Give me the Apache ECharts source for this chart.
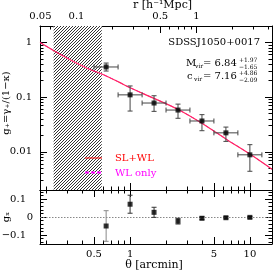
<!DOCTYPE html>
<html><head><meta charset="utf-8">
<script src="https://cdn.jsdelivr.net/npm/echarts@6/dist/echarts.min.js"></script>
<style>html,body{margin:0;padding:0;background:#fff}#c{width:274px;height:272px}</style>
</head><body><div id="c"></div>
<script>
// ---- data ----
const theta    = [0.631, 1.0, 1.585, 2.512, 3.981, 6.31, 10.0];
const thetaLo  = [0.50, 0.794, 1.26, 1.995, 3.16, 5.01, 7.94];
const thetaHi  = [0.794, 1.26, 1.995, 3.16, 5.01, 7.94, 12.6];
const gPlus    = [0.356, 0.110, 0.078, 0.058, 0.0366, 0.0222, 0.0088];
const gPlusLo  = [0.30, 0.0556, 0.0549, 0.0410, 0.0243, 0.0155, 0.0044];
const gPlusHi  = [0.42, 0.160, 0.106, 0.0745, 0.0478, 0.0283, 0.0135];
const gCross   = [-0.05, 0.071, 0.026, -0.023, -0.007, -0.004, -0.002];
const gCrossErr= [0.085, 0.05, 0.028, 0.016, 0.008, 0.006, 0.005];
const modelTheta = [0.177, 0.26, 0.35, 0.463, 0.58, 0.8, 1.0, 1.6, 2.5, 4.0, 6.3, 10.0, 15.3];
const modelG     = [1.0, 0.61, 0.43, 0.32, 0.265, 0.19, 0.148, 0.094, 0.060, 0.033, 0.0172, 0.0091, 0.0048];
const hatchRange = [0.23, 0.58];
const thetaMajor = [0.5, 1, 5, 10];
const thetaMinor = [0.2, 0.3, 0.4, 0.6, 0.7, 0.8, 0.9, 2, 3, 4, 6, 7, 8, 9];
const thetaLabels = ['0.5', '1', '5', '10'];
const rMajor = [0.05, 0.1, 0.5, 1];
const rMinor = [0.06, 0.07, 0.08, 0.09, 0.2, 0.3, 0.4, 0.6, 0.7, 0.8, 0.9, 2, 3, 4];
const rLabels = ['0.05', '0.1', '0.5', '1'];
const gMajor = [0.01, 0.1, 1];
const gMinor = [0.002,0.003,0.004,0.005,0.006,0.007,0.008,0.009,0.02,0.03,0.04,0.05,0.06,0.07,0.08,0.09,0.2,0.3,0.4,0.5,0.6,0.7,0.8,0.9];
const gLabels = ['0.01', '0.1', '1'];
const xMajor = [-0.1, 0, 0.1];
const xMinor = [-0.14,-0.12,-0.08,-0.06,-0.04,-0.02,0.02,0.04,0.06,0.08,0.12,0.14];
const xLabels = ['{p|\u22120.1}', '0', '{p|0.1}'];
const thetaRange = [0.177, 15.3];
const rPerArcmin = 0.28;
const gRange = [0.002, 2];
const gxRange = [-0.15, 0.15];

const F = 'DejaVu Serif';
function pick(major, labels){
  return v => {
    for (let i=0;i<major.length;i++){
      const m = major[i];
      if (Math.abs(m - v) < 1e-9 + 1e-6*Math.abs(m)) return labels[i];
      if (m > 0 && Math.abs(Math.log10(m) - v) < 1e-6) return labels[i];
    }
    return '';
  };
}
function ax(type, gi, pos, min, max, ticks, len, labelVals, labels, line){
  return {
    type, gridIndex: gi, position: pos, min, max, logBase: 10,
    axisLine: {show: line, onZero: false, lineStyle: {color: '#000', width: 1}},
    axisTick: {show: true, inside: true, length: len, customValues: ticks, lineStyle: {color: '#000', width: 1}},
    axisLabel: labelVals ? {show: true, customValues: labelVals, fontFamily: F, fontSize: 10, color: '#000', margin: 5,
      formatter: pick(labelVals, labels), rich: {p: {fontFamily: F, fontSize: 10, color: '#000', padding: [0, 7, 0, 0]}}} : {show: false},
    splitLine: {show: false}, minorTick: {show: false}, minorSplitLine: {show: false}
  };
}
const rRange = [thetaRange[0]*rPerArcmin, thetaRange[1]*rPerArcmin];
const xAxes = [
  ax('log', 0, 'bottom', thetaRange[0], thetaRange[1], thetaMajor, 7, null, null, true),
  ax('log', 0, 'bottom', thetaRange[0], thetaRange[1], thetaMinor, 3.5, null, null, false),
  ax('log', 0, 'top', rRange[0], rRange[1], rMajor, 7, rMajor, rLabels, true),
  ax('log', 0, 'top', rRange[0], rRange[1], rMinor, 3.5, null, null, false),
  ax('log', 1, 'bottom', thetaRange[0], thetaRange[1], thetaMajor, 7, thetaMajor, thetaLabels, true),
  ax('log', 1, 'bottom', thetaRange[0], thetaRange[1], thetaMinor, 3.5, null, null, false),
  ax('log', 1, 'top', thetaRange[0], thetaRange[1], thetaMajor, 7, null, null, true),
  ax('log', 1, 'top', thetaRange[0], thetaRange[1], thetaMinor, 3.5, null, null, false)
];
const yAxes = [
  ax('log', 0, 'left', gRange[0], gRange[1], gMajor, 7, gMajor, gLabels, true),
  ax('log', 0, 'left', gRange[0], gRange[1], gMinor, 3.5, null, null, false),
  ax('log', 0, 'right', gRange[0], gRange[1], gMajor, 7, null, null, true),
  ax('log', 0, 'right', gRange[0], gRange[1], gMinor, 3.5, null, null, false),
  ax('value', 1, 'left', gxRange[0], gxRange[1], xMajor, 7, xMajor, xLabels, true),
  ax('value', 1, 'left', gxRange[0], gxRange[1], xMinor, 3.5, null, null, false),
  ax('value', 1, 'right', gxRange[0], gxRange[1], xMajor, 7, null, null, true),
  ax('value', 1, 'right', gxRange[0], gxRange[1], xMinor, 3.5, null, null, false)
];
yAxes[0].axisLabel.margin = 8;
yAxes[4].axisLabel.margin = 7;

function hatchCanvas(){
  const c = document.createElement('canvas'); c.width = 3; c.height = 3;
  const x = c.getContext('2d');
  x.fillStyle = '#fff'; x.fillRect(0,0,3,3);
  x.fillStyle = '#333'; x.fillRect(2,0,1,1); x.fillRect(1,1,1,1); x.fillRect(0,2,1,1);
  return c;
}
function legendIcon(color, dashed){
  const c = document.createElement('canvas'); c.width = 25; c.height = 9;
  const x = c.getContext('2d');
  x.fillStyle = color;
  if (dashed){ for (let i=0;i<17;i+=6) x.fillRect(i, 3, Math.min(4, 17-i), 2); }
  else x.fillRect(0, 4, 17, 1);
  return 'image://' + c.toDataURL();
}

function seg(a, b, color){
  return {type:'line', shape:{x1:a[0],y1:a[1],x2:b[0],y2:b[1]}, style:{stroke:color, lineWidth:1}};
}

const modelData = modelTheta.map((t,i)=>[t, modelG[i]]);

const option = {
  animation: false,
  backgroundColor: '#fff',
  grid: [
    {left: 40, top: 26, width: 232, height: 164, outerBoundsMode: 'none', containLabel: false},
    {left: 40, top: 190, width: 232, height: 54, outerBoundsMode: 'none', containLabel: false}
  ],
  xAxis: xAxes,
  yAxis: yAxes,
  legend: {
    data: [
      {name:'SL+WL', icon: legendIcon('#ff0000', false), textStyle:{color:'#ff0000'}},
      {name:'WL only', icon: legendIcon('#ff00ff', true), textStyle:{color:'#ff00ff'}}
    ],
    orient: 'vertical', left: 80, top: 148, itemWidth: 25, itemHeight: 9, itemGap: 5,
    textStyle: {fontFamily: F, fontSize: 10}, selectedMode: false
  },
  series: [
    {name:'hatch', type:'line', xAxisIndex:0, yAxisIndex:0, data:[], silent:true,
      markArea: {silent:true, itemStyle:{color:{image: hatchCanvas(), repeat:'repeat'}, borderWidth:0},
        data: [[{xAxis: hatchRange[0]}, {xAxis: hatchRange[1]}]]}},
    {name:'WL only', type:'line', xAxisIndex:0, yAxisIndex:0, data: modelData, symbol:'none', smooth:0.3,
      lineStyle:{color:'#ff00ff', width:1, type:'dashed'}, itemStyle:{color:'#ff00ff'}, z:3},
    {name:'SL+WL', type:'line', xAxisIndex:0, yAxisIndex:0, data: modelData, symbol:'none', smooth:0.3,
      lineStyle:{color:'#ff2a5c', width:1.2}, itemStyle:{color:'#ff0000'}, z:4},
    {name:'errPlus', type:'custom', xAxisIndex:0, yAxisIndex:0, z:5,
      data: theta.map((t,i)=>[t, gPlus[i], thetaLo[i], thetaHi[i], gPlusLo[i], gPlusHi[i]]),
      encode: {x:[0,2,3], y:[1,4,5]},
      renderItem: (p, api) => {
        const t = api.value(0), g = api.value(1);
        const a = api.coord([api.value(2), g]), b = api.coord([api.value(3), g]);
        const c = api.coord([t, api.value(4)]), d = api.coord([t, api.value(5)]);
        const k = 2.5, col = '#444';
        return {type:'group', children:[
          seg(a,b,col), seg([a[0],a[1]-k],[a[0],a[1]+k],col), seg([b[0],b[1]-k],[b[0],b[1]+k],col),
          seg(c,d,col), seg([c[0]-k,c[1]],[c[0]+k,c[1]],col), seg([d[0]-k,d[1]],[d[0]+k,d[1]],col)
        ]};
      }},
    {name:'ptsPlus', type:'scatter', xAxisIndex:0, yAxisIndex:0, z:6, symbol:'rect', symbolSize:5,
      itemStyle:{color:'#000'}, data: theta.map((t,i)=>[t, gPlus[i]])},
    {name:'zero', type:'line', xAxisIndex:4, yAxisIndex:4, data:[], silent:true,
      markLine:{silent:true, symbol:'none', label:{show:false},
        lineStyle:{color:'#888', type:[1.5,1.5], width:1}, data:[{yAxis:0}]}},
    {name:'errCross', type:'custom', xAxisIndex:4, yAxisIndex:4, z:5,
      data: theta.map((t,i)=>[t, gCross[i], gCross[i]-gCrossErr[i], gCross[i]+gCrossErr[i]]),
      encode: {x:[0], y:[1,2,3]},
      renderItem: (p, api) => {
        const t = api.value(0);
        const c = api.coord([t, api.value(2)]), d = api.coord([t, api.value(3)]);
        const k = 2.5, col = p.dataIndex === 0 ? '#888' : '#333';
        return {type:'group', children:[
          seg(c,d,col), seg([c[0]-k,c[1]],[c[0]+k,c[1]],col), seg([d[0]-k,d[1]],[d[0]+k,d[1]],col)
        ]};
      }},
    {name:'ptsCross', type:'scatter', xAxisIndex:4, yAxisIndex:4, z:6, symbol:'rect', symbolSize:5,
      itemStyle:{color:'#000'}, data: theta.map((t,i)=>[t, gCross[i]])}
  ],
  graphic: [
    {type:'text', left:133, top:0, style:{text:'r [h\u207B\u00B9Mpc]', fontFamily:F, fontSize:11, fill:'#000'}},
    {type:'text', x:154, y:265, style:{text:'\u03B8 [arcmin]', fontFamily:F, fontSize:11, fill:'#000', align:'center', verticalAlign:'middle'}},
    {type:'text', x:6, y:103, rotation:Math.PI/2, style:{text:'g\u208A=\u03B3\u208A/(1\u2212\u03BA)', fontFamily:F, fontSize:10, fill:'#000', align:'center', verticalAlign:'middle'}},
    {type:'text', x:6, y:217, rotation:Math.PI/2, style:{text:'g\u2093', fontFamily:F, fontSize:10, fill:'#000', align:'center', verticalAlign:'middle'}},
    {type:'text', x:260, y:42, style:{text:'SDSSJ1050+0017', fontFamily:F, fontSize:10, fill:'#000', align:'right', verticalAlign:'middle'}},
    {type:'text', x:186, y:63, style:{text:'M', fontFamily:F, fontSize:10, fill:'#000', verticalAlign:'middle'}},
    {type:'text', x:195, y:66, style:{text:'vir', fontFamily:F, fontSize:6, fill:'#000', verticalAlign:'middle'}},
    {type:'text', x:203, y:63, style:{text:'= 6.84', fontFamily:F, fontSize:10, fill:'#000', verticalAlign:'middle'}},
    {type:'text', x:239, y:60, style:{text:'+1.97', fontFamily:F, fontSize:6, fill:'#000', verticalAlign:'middle'}},
    {type:'text', x:239, y:67, style:{text:'\u22121.65', fontFamily:F, fontSize:6, fill:'#000', verticalAlign:'middle'}},
    {type:'text', x:187, y:76, style:{text:'c', fontFamily:F, fontSize:10, fill:'#000', verticalAlign:'middle'}},
    {type:'text', x:194, y:79, style:{text:'vir', fontFamily:F, fontSize:6, fill:'#000', verticalAlign:'middle'}},
    {type:'text', x:203, y:76, style:{text:'= 7.16', fontFamily:F, fontSize:10, fill:'#000', verticalAlign:'middle'}},
    {type:'text', x:239, y:73, style:{text:'+4.86', fontFamily:F, fontSize:6, fill:'#000', verticalAlign:'middle'}},
    {type:'text', x:239, y:80, style:{text:'\u22122.09', fontFamily:F, fontSize:6, fill:'#000', verticalAlign:'middle'}}
  ]
};
const chart = echarts.init(document.getElementById('c'), null, {renderer:'canvas'});
chart.setOption(option);
</script>
</body></html>
